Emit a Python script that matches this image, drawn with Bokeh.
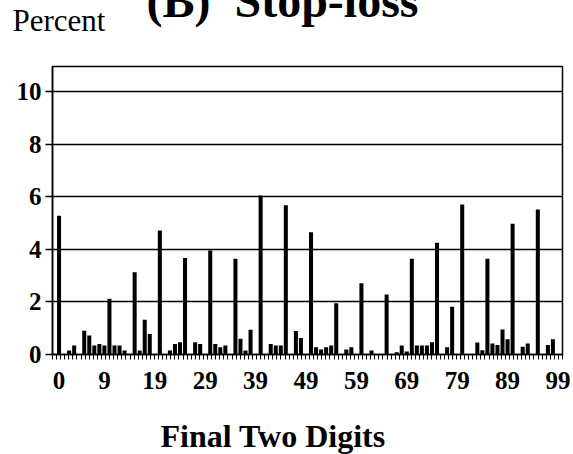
import numpy as np
from bokeh.plotting import figure
from bokeh.models import Range1d, FixedTicker, Title, ColumnDataSource
from bokeh.embed import file_html
from bokeh.resources import INLINE

# ---- data ----
digits = list(range(100))
percent = [
    5.28, 0.00, 0.15, 0.34, 0.00, 0.90, 0.72, 0.34, 0.40, 0.34,
    2.12, 0.34, 0.34, 0.15, 0.00, 3.13, 0.15, 1.32, 0.78, 0.00,
    4.71, 0.00, 0.15, 0.40, 0.47, 3.67, 0.00, 0.47, 0.40, 0.00,
    3.95, 0.40, 0.28, 0.34, 0.00, 3.64, 0.60, 0.15, 0.94, 0.00,
    6.05, 0.00, 0.40, 0.34, 0.34, 5.67, 0.00, 0.89, 0.63, 0.00,
    4.65, 0.28, 0.19, 0.28, 0.34, 1.95, 0.00, 0.19, 0.28, 0.00,
    2.71, 0.00, 0.15, 0.00, 0.00, 2.28, 0.00, 0.09, 0.34, 0.11,
    3.64, 0.34, 0.34, 0.34, 0.47, 4.25, 0.00, 0.28, 1.82, 0.00,
    5.70, 0.00, 0.00, 0.46, 0.16, 3.64, 0.42, 0.36, 0.95, 0.58,
    4.97, 0.00, 0.29, 0.42, 0.00, 5.51, 0.00, 0.36, 0.58, 0.00,
]
x_tick_values = [0, 9, 19, 29, 39, 49, 59, 69, 79, 89, 99]
y_tick_values = [0, 2, 4, 6, 8, 10]
title_text = "(B) \u00a0Stop-loss"
y_title = "Percent"
x_title = "Final Two Digits"

W, H = 573, 454
FL, FR, FT, FB = 52, 562, 66, 354   # frame edges in canvas pixels
SERIF = "Liberation Serif"

p = figure(width=W, height=H, output_backend="svg", toolbar_location=None,
           x_range=Range1d(-1.3, 99.9), y_range=Range1d(0, 10.95),
           min_border_left=FL, min_border_right=W - FR, min_border_top=FT,
           min_border_bottom=H - FB)
p.background_fill_color = "white"
p.border_fill_color = "white"
p.outline_line_color = "black"
p.outline_line_width = 1.5

src = ColumnDataSource(dict(x=digits, top=percent))
p.vbar(x="x", top="top", width=0.8, source=src, fill_color="black",
       line_color=None)

# x axis
x0, x1 = -1.3, 99.9
p.xaxis.ticker = FixedTicker(ticks=x_tick_values,
                             minor_ticks=list(np.linspace(x0, x1, 126)))
p.xaxis.major_tick_out = 0
p.xaxis.major_tick_in = 0
p.xaxis.minor_tick_out = 5
p.xaxis.minor_tick_in = 0
p.xaxis.minor_tick_line_color = "black"
p.xaxis.minor_tick_line_width = 1
p.xaxis.axis_line_color = "black"
p.xaxis.axis_line_width = 1.5
p.xaxis.major_label_text_font = SERIF
p.xaxis.major_label_text_font_style = "bold"
p.xaxis.major_label_text_font_size = "25px"
p.xaxis.major_label_text_color = "black"
p.xaxis.major_label_standoff = 12

# y axis
p.yaxis.ticker = FixedTicker(ticks=y_tick_values)
p.yaxis.major_tick_out = 7
p.yaxis.major_tick_in = 0
p.yaxis.minor_tick_out = 0
p.yaxis.minor_tick_in = 0
p.yaxis.major_tick_line_color = "black"
p.yaxis.major_tick_line_width = 1.5
p.yaxis.axis_line_color = "black"
p.yaxis.axis_line_width = 1.5
p.yaxis.major_label_text_font = SERIF
p.yaxis.major_label_text_font_style = "bold"
p.yaxis.major_label_text_font_size = "25px"
p.yaxis.major_label_text_color = "black"
p.yaxis.major_label_standoff = 4

p.xgrid.grid_line_color = None
p.ygrid.ticker = FixedTicker(ticks=y_tick_values)
p.ygrid.grid_line_color = "black"
p.ygrid.grid_line_width = 1.5

# texts as titles in side panels (panels stack outward from the frame);
# tiny blank spacer titles push the texts to the reference positions
p.add_layout(Title(text="\u00a0", text_font_size="2px", standoff=20.3), "above")
p.add_layout(Title(text=y_title, align="left", offset=12 - FL,
                   vertical_align="top", standoff=1.6,
                   text_font=SERIF, text_font_style="normal",
                   text_font_size="31px", text_color="black"), "above")
p.add_layout(Title(text=title_text, align="left", offset=146 - FL,
                   vertical_align="top", standoff=-53.4,
                   text_font=SERIF, text_font_style="bold",
                   text_font_size="48px", text_color="black"), "above")

p.add_layout(Title(text="\u00a0", text_font_size="2px", standoff=26.9), "below")
p.add_layout(Title(text=x_title, align="left", offset=160 - FL,
                   vertical_align="top", standoff=-10,
                   text_font=SERIF, text_font_style="bold",
                   text_font_size="32px", text_color="black"), "below")

open("out.html", "w").write(file_html(p, INLINE))
